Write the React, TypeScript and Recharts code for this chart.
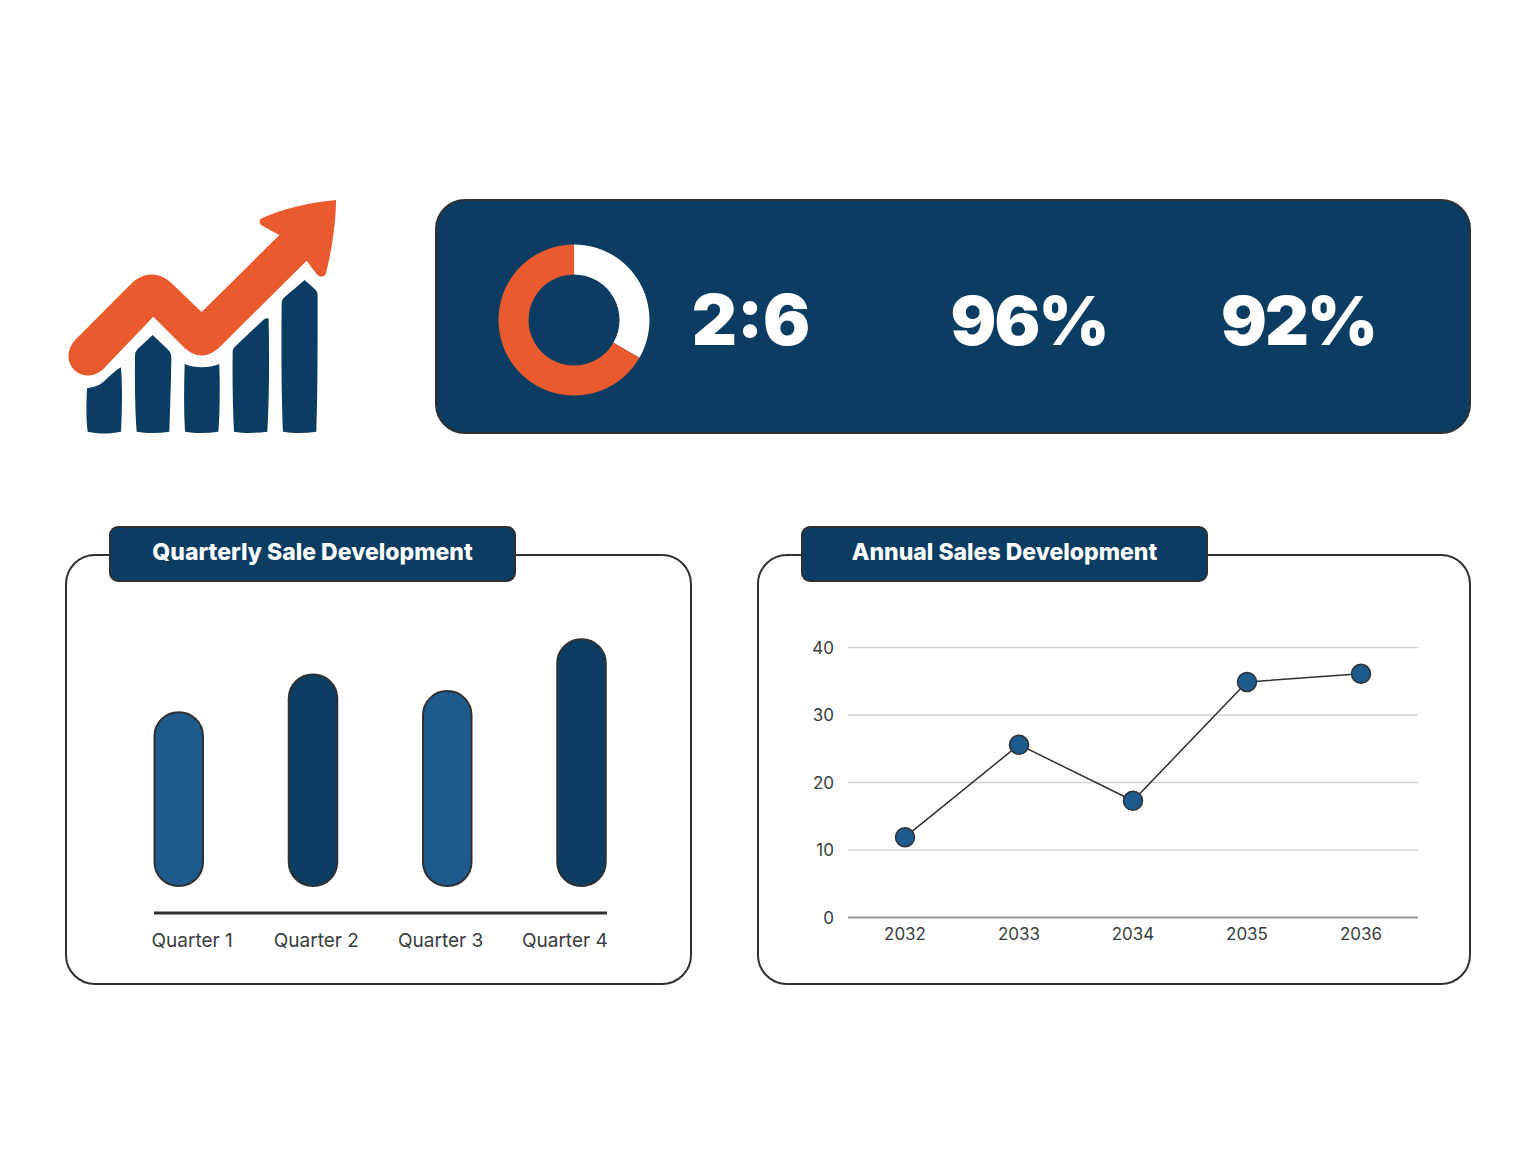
import { BarChart, Bar, XAxis, YAxis, Cell, LineChart, Line, CartesianGrid, PieChart, Pie } from "recharts";

const NAVY = "#0B3D62";
const BLUE = "#1F5A8C";
const ORANGE = "#E95B2E";
const INK = "#2E3134";

const ratioNames = ["Part", "Rest"];
const ratioValues = [2, 4];
const ratioColors = ["#FFFFFF", ORANGE];
const statLabels = ["2:6", "96%", "92%"];

const quarters = ["Quarter 1", "Quarter 2", "Quarter 3", "Quarter 4"];
const quarterValues = [34.5, 42, 38.7, 49];
const quarterColors = [BLUE, NAVY, BLUE, NAVY];

const years = ["2032", "2033", "2034", "2035", "2036"];
const yearValues = [11.9, 25.6, 17.3, 34.9, 36.1];
const yearTicks = [0, 10, 20, 30, 40];

const ratioData = ratioNames.map((name, i) => ({ name, value: ratioValues[i] }));
const quarterData = quarters.map((quarter, i) => ({ quarter, sales: quarterValues[i] }));
const yearData = years.map((year, i) => ({ year, sales: yearValues[i] }));

const font = "Inter, Roboto, sans-serif";

function Logo() {
  return (
    <svg width={320} height={270} viewBox="0 0 960 810" style={{ position: "absolute", left: 40, top: 180 }}>
      <path
        fill={ORANGE}
        d="M888 60C800 68 720 90 665 115C655 122 658 132 668 138L718 165L485 396L395 310C360 275 310 275 275 310L115 470C75 505 80 550 105 572C135 595 170 590 195 562L340 410L430 500C465 535 505 535 540 500L800 242L830 283C840 293 855 292 858 280C875 210 888 130 888 60Z"
      />
      <g fill={NAVY}>
        <path d="M141 625C175 620 185 612 205 592C220 578 232 568 243 562C248 630 246 700 243 755C210 762 175 762 143 755C138 715 139 665 141 625Z" />
        <path d="M338 465L385 510Q395 520 394 535C393 610 390 700 388 755C355 760 320 760 290 755C285 690 284 600 285 525Q285 515 293 507Z" />
        <path d="M434 552C465 565 505 565 538 552C540 620 540 700 535 755C500 760 465 760 435 755C431 690 432 620 434 552Z" />
        <path d="M578 515Q578 505 590 495L672 418Q682 412 686 416C688 530 688 650 682 755C650 760 610 760 582 755C578 680 577 590 578 515Z" />
        <path d="M794 300L825 328Q834 336 833 355C833 500 833 650 829 755C795 760 760 760 729 755C724 640 724 480 725 370Q725 358 735 350Z" />
      </g>
    </svg>
  );
}

function Panel({ left, width, titleLeft, title }: { left: number; width: number; titleLeft: number; title: string }) {
  return (
    <>
      <div
        style={{
          position: "absolute",
          left,
          top: 554,
          width,
          height: 431,
          boxSizing: "border-box",
          border: `2px solid ${INK}`,
          borderRadius: 30,
        }}
      />
      <div
        style={{
          position: "absolute",
          left: titleLeft,
          top: 526,
          width: 407,
          height: 56,
          boxSizing: "border-box",
          background: NAVY,
          border: `2px solid ${INK}`,
          borderRadius: 9,
          color: "#fff",
          font: `800 23px ${font}`,
          lineHeight: "48px",
          textAlign: "center",
          zIndex: 2,
        }}
      >
        {title}
      </div>
    </>
  );
}

export default function App() {
  return (
    <div style={{ position: "absolute", left: 0, top: 0, width: 1536, height: 1152, background: "#fff", overflow: "hidden" }}>
      <Logo />

      <div
        style={{
          position: "absolute",
          left: 435,
          top: 199,
          width: 1036,
          height: 235,
          boxSizing: "border-box",
          background: NAVY,
          border: `2px solid ${INK}`,
          borderRadius: 30,
        }}
      />
      <div style={{ position: "absolute", left: 494, top: 240 }}>
        <PieChart width={160} height={160} margin={{ top: 0, right: 0, bottom: 0, left: 0 }}>
          <Pie
            data={ratioData}
            dataKey="value"
            nameKey="name"
            cx={80}
            cy={80}
            innerRadius={45.5}
            outerRadius={75.5}
            startAngle={90}
            endAngle={-270}
            stroke="none"
            isAnimationActive={false}
          >
            {ratioData.map((d, i) => (
              <Cell key={d.name} fill={ratioColors[i]} />
            ))}
          </Pie>
        </PieChart>
      </div>
      {statLabels.map((label, i) => (
        <div
          key={label}
          style={{
            position: "absolute",
            left: [651, 929, 1198.5][i],
            top: 270,
            width: 200,
            textAlign: "center",
            color: "#fff",
            font: `900 ${i === 0 ? 70 : 68}px ${font}`,
            letterSpacing: i === 0 ? 0 : -2,
            lineHeight: "100px",
          }}
        >
          {label}
        </div>
      ))}

      <Panel left={65} width={627} titleLeft={109} title="Quarterly Sale Development" />
      <Panel left={757} width={714} titleLeft={801} title="Annual Sales Development" />

      <div style={{ position: "absolute", left: 134, top: 614 }}>
        <BarChart width={493} height={349} data={quarterData} margin={{ top: 0, right: 20, bottom: 0, left: 20 }}>
          <XAxis xAxisId="bars" dataKey="quarter" hide height={0} padding={{ left: -42.5, right: -41.5 }} />
          <XAxis
            xAxisId="labels"
            dataKey="quarter"
            height={50}
            padding={{ left: -24, right: -20 }}
            axisLine={{ stroke: INK, strokeWidth: 3 }}
            tickLine={false}
            tickSize={0}
            tickMargin={21}
            interval={0}
            tick={{ fill: "#3A3D40", fontSize: 19, fontFamily: font }}
          />
          <YAxis hide domain={[-5.36, 54]} allowDataOverflow />
          <Bar
            xAxisId="bars"
            dataKey="sales"
            barSize={48.5}
            radius={24}
            stroke={INK}
            strokeWidth={2}
            isAnimationActive={false}
          >
            {quarterData.map((d, i) => (
              <Cell key={d.quarter} fill={quarterColors[i]} />
            ))}
          </Bar>
        </BarChart>
      </div>

      <div style={{ position: "absolute", left: 788, top: 627 }}>
        <LineChart width={630} height={332.5} data={yearData} margin={{ top: 20.5, right: 0, bottom: 0, left: 0 }}>
          <CartesianGrid vertical={false} stroke="#D2D2D2" strokeWidth={1.5} />
          <XAxis
            dataKey="year"
            height={42}
            padding={{ left: 57, right: 57 }}
            axisLine={{ stroke: "#9A9A9A", strokeWidth: 2 }}
            tickLine={false}
            tickSize={0}
            tickMargin={10}
            interval={0}
            tick={{ fill: "#3A3D40", fontSize: 17, fontFamily: font }}
          />
          <YAxis
            width={60}
            domain={[0, 40]}
            ticks={yearTicks}
            axisLine={false}
            tickLine={false}
            tickSize={0}
            tickMargin={14}
            tick={{ fill: "#3A3D40", fontSize: 17, fontFamily: font }}
          />
          <Line
            dataKey="sales"
            type="linear"
            stroke={INK}
            strokeWidth={1.5}
            dot={{ r: 9.5, fill: BLUE, stroke: INK, strokeWidth: 1.5 }}
            isAnimationActive={false}
          />
        </LineChart>
      </div>
    </div>
  );
}
